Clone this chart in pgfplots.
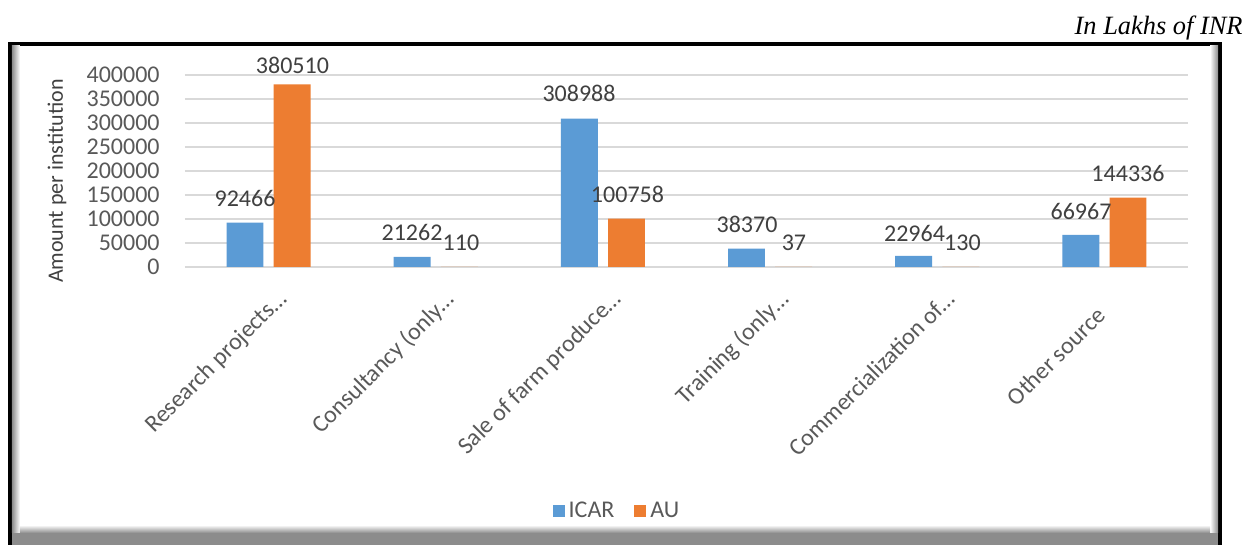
\documentclass[border=0pt]{standalone}
\usepackage{fontspec}
\setmainfont{Carlito}
\newfontfamily\timesf{Liberation Serif}
\usepackage{pgfplots}
\pgfplotsset{compat=1.18}
\definecolor{icar}{HTML}{5B9BD5}
\definecolor{au}{HTML}{ED7D31}
\definecolor{txt}{HTML}{595959}
\definecolor{lbl}{HTML}{404040}
\definecolor{grd}{HTML}{D9D9D9}
\definecolor{bev}{HTML}{8C8C8C}
\begin{document}
\begin{tikzpicture}
\begin{scope}[shift={(-92.5pt,133.5pt)}, x=0.5pt, y=-0.5pt]
\useasboundingbox (0,0) rectangle (1248,545);
\fill[black] (8,42) rectangle (1222,545);
\fill[bev] (12,46) rectangle (1218,545);
\fill[white] (20,46) rectangle (1210,533);
\shade[left color=bev, right color=white] (12,46) rectangle (20,533);
\shade[left color=white, right color=bev] (1210,46) rectangle (1218,533);
\shade[top color=white, bottom color=bev] (20,525) rectangle (1210,533);
\node[anchor=base east, inner sep=0pt, font=\timesf\itshape\fontsize{13.2}{15}\selectfont] at (1243,35) {In Lakhs of INR};
\node[rotate=90, inner sep=0pt, text=lbl, font=\fontsize{11}{13}\selectfont] at (57,181) {Amount per institution};
\end{scope}
\begin{axis}[
  at={(0,0)}, anchor=south west,
  scale only axis, width=501.5pt, height=96pt,
  xmin=-0.5, xmax=5.5, ymin=0, ymax=400000,
  clip=false,
  axis line style={draw=none},
  major tick length=0pt,
  ytick={0,50000,...,400000},
  ymajorgrids, grid style={grd, line width=0.75pt},
  scaled y ticks=false,
  /pgf/number format/.cd, 1000 sep={}, fixed, assume math mode=true,
  /pgfplots/.cd,
  yticklabel style={anchor=east, inner sep=0pt, xshift=-12.5pt, text=txt, font=\fontsize{12}{14}\selectfont},
  xtick={0,1,2,3,4,5},
  xticklabels={Research projects…, Consultancy (only…, Sale of farm produce…, Training (only…, Commercialization of…, Other source\kern12pt},
  xticklabel style={xshift=3.75pt, yshift=-10.5pt, rotate=45, anchor=north east, inner sep=0pt, text=txt, font=\fontsize{12}{14}\selectfont},
  legend columns=2,
  legend style={draw=none, fill=none, at={(0.4317,-1.271)}, anchor=center, font=\fontsize{12}{14}\selectfont, text=txt,
    /tikz/every even column/.append style={column sep=8pt}},
  legend image code/.code={\fill[#1] (0pt,-3.2pt) rectangle (6pt,3.2pt);},
]
\addplot[ybar, fill=icar, draw=none, bar width=0.221, bar shift=-0.141] coordinates {(0,92466) (1,21262) (2,308988) (3,38370) (4,22964) (5,66967)};
\addlegendentry{ICAR}
\addplot[ybar, fill=au, draw=none, bar width=0.221, bar shift=0.141] coordinates {(0,380510) (1,110) (2,100758) (3,37) (4,130) (5,144336)};
\addlegendentry{AU}
\begin{scope}[every node/.style={text=lbl, font=\fontsize{12}{14}\selectfont, inner sep=0pt}]
\node at (axis cs:-0.141,143750) {92466};
\node at (axis cs:0.143,420833) {380510};
\node at (axis cs:0.858,72917) {21262};
\node at (axis cs:1.151,50000) {110};
\node at (axis cs:1.857,362500) {308988};
\node at (axis cs:2.147,152083) {100758};
\node at (axis cs:2.862,89583) {38370};
\node at (axis cs:3.143,50000) {37};
\node at (axis cs:3.864,70833) {22964};
\node at (axis cs:4.151,50000) {130};
\node at (axis cs:4.86,116667) {66967};
\node at (axis cs:5.141,195833) {144336};
\end{scope}
\end{axis}
\end{tikzpicture}
\end{document}
